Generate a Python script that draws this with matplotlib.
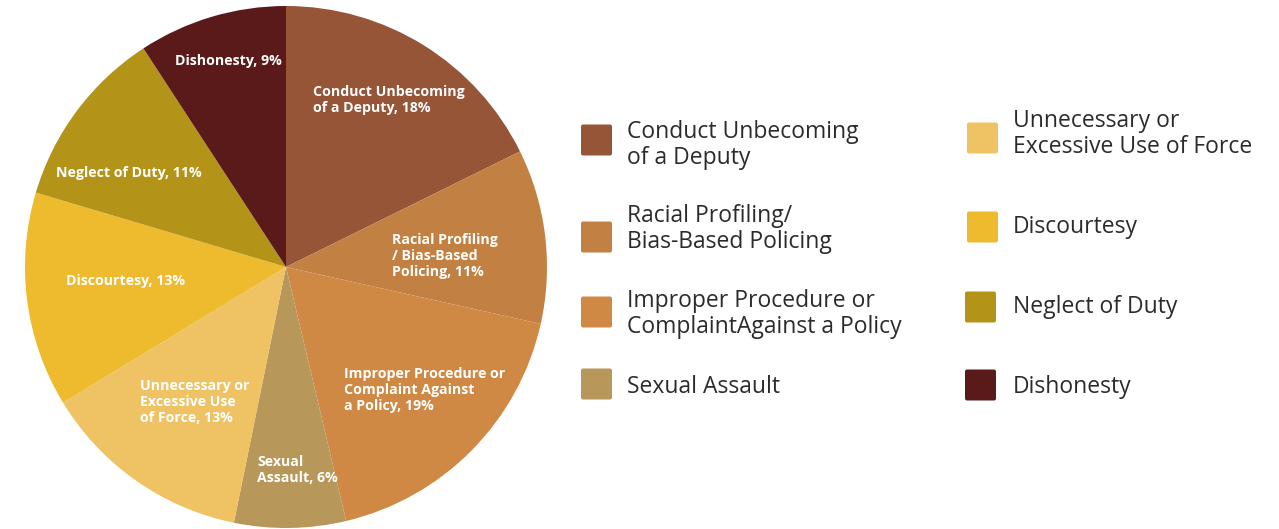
import matplotlib.pyplot as plt
from matplotlib.patches import FancyBboxPatch

# Data
categories = ['Conduct Unbecoming of a Deputy', 'Racial Profiling / Bias-Based Policing',
              'Improper Procedure or Complaint Against a Policy', 'Sexual Assault',
              'Unnecessary or Excessive Use of Force', 'Discourtesy', 'Neglect of Duty', 'Dishonesty']
wedge_sizes = [17.7, 10.8, 17.8, 6.9, 13.1, 13.3, 11.2, 9.2]
printed_pct = [18, 11, 19, 6, 13, 13, 11, 9]
colors = ['#965537', '#C28142', '#D08945', '#B8985A', '#EFC363', '#EEBB2F', '#B39419', '#5A1A1A']

# slice label text, without the percentage
slice_names = ['Conduct Unbecoming\nof a Deputy',
               'Racial Profiling\n/ Bias-Based\nPolicing',
               'Improper Procedure or\nComplaint Against\na Policy',
               'Sexual\nAssault',
               'Unnecessary or\nExcessive Use\nof Force',
               'Discourtesy',
               'Neglect of Duty',
               'Dishonesty']
# legend texts (two columns)
legend_labels = ['Conduct Unbecoming\nof a Deputy',
                 'Racial Profiling/\nBias-Based Policing',
                 'Improper Procedure or\nComplaintAgainst a Policy',
                 'Sexual Assault',
                 'Unnecessary or\nExcessive Use of Force',
                 'Discourtesy',
                 'Neglect of Duty',
                 'Dishonesty']

W, H = 1279, 529
plt.rcParams['font.family'] = ['Open Sans', 'DejaVu Sans']

fig = plt.figure(figsize=(W / 100, H / 100), dpi=100)
ax = fig.add_axes([0, 0, 1, 1])

# pie in pixel coordinates (y up)
cx, cy, r = 286, H - 267, 261
ax.pie(wedge_sizes, colors=colors, startangle=90, counterclock=False,
       center=(cx, cy), radius=r, wedgeprops=dict(linewidth=0))
ax.set_xlim(0, W)
ax.set_ylim(0, H)
ax.set_aspect('equal')
ax.axis('off')

# slice label anchors: left x, vertical center (pixels from top)
label_pos = [(313, 100), (392, 256), (344, 390), (257, 470),
             (140, 402), (66, 281), (56, 173), (175, 61)]
for name, pct, (x, y) in zip(slice_names, printed_pct, label_pos):
    ax.text(x, H - y, f'{name}, {pct}%', color='white', fontsize=10.2,
            fontweight='bold', ha='left', va='center', linespacing=1.17)

# legend
leg_sq = [(581, 140), (581, 237), (581, 312), (581, 384),
          (967, 138), (967, 227), (965, 307), (965, 385)]
leg_txt = [(627, 145), (627, 229), (627, 314), (627, 387),
           (1013, 134), (1013, 227), (1013, 307), (1013, 387)]
sq = 31
for c, lab, (sx, sy), (tx, ty) in zip(colors, legend_labels, leg_sq, leg_txt):
    ax.add_patch(FancyBboxPatch((sx + 2, H - sy - sq / 2 + 2), sq - 4, sq - 4,
                                boxstyle='round,pad=2', fc=c, ec='none'))
    ax.text(tx, H - ty, lab, color='#2b2b2b', fontsize=16.5, ha='left', va='center',
            linespacing=1.06)

fig.savefig('out.png', dpi=100, facecolor='white')
